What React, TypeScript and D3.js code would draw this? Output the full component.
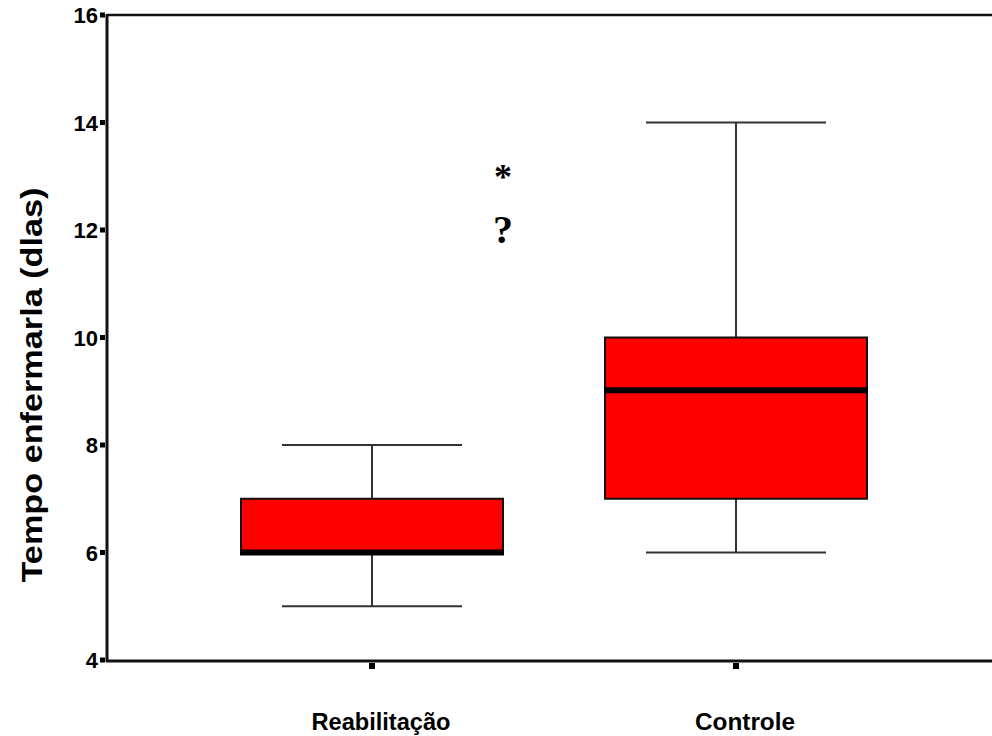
import React from "react";
import * as d3 from "d3";

const categories = ["Reabilitação", "Controle"];
const whiskerLow = [5, 6];
const q1 = [6, 7];
const median = [6, 9.02];
const q3 = [7, 10];
const whiskerHigh = [8, 14];
const outlierValues = [13, 12];
const outlierSymbols = ["*", "?"];
const outlierGroup = ["Reabilitação", "Reabilitação"];
const yTicks = [4, 6, 8, 10, 12, 14, 16];
const yTitle = "Tempo enfermarla (dlas)";

const W = 992;
const H = 736;
const axisX = 107;
const top = 15;
const bottom = 660;

export default function App() {
  const y = d3.scaleLinear().domain([4, 16]).range([bottom, top]);
  const x = d3.scalePoint<string>().domain(categories).range([372, 736]);
  const boxW = 262;
  const capW = 180;
  const sans = "'Liberation Sans', Arial, sans-serif";
  const serif = "'Liberation Serif', 'Times New Roman', serif";
  const labelLen: Record<string, number> = { "Reabilitação": 139, Controle: 100 };

  return (
    <svg
      width={W}
      height={H}
      style={{ position: "absolute", left: 0, top: 0, background: "#fff" }}
    >
      {/* frame lines */}
      <line x1={axisX} x2={W} y1={top} y2={top} stroke="#111" strokeWidth={2.5} />
      <line x1={axisX - 1} x2={W} y1={bottom + 1} y2={bottom + 1} stroke="#111" strokeWidth={3} />
      <line x1={axisX} x2={axisX} y1={top - 1} y2={bottom + 2} stroke="#111" strokeWidth={3} />

      {/* y ticks */}
      {yTicks.map((t) => (
        <g key={t}>
          <rect x={axisX - 7} y={y(t) - 2.5} width={5} height={5} fill="#000" />
          <text
            x={axisX - 9}
            y={y(t) + 8}
            textAnchor="end"
            fontFamily={sans}
            fontWeight="bold"
            fontSize={22}
            fill="#000"
          >
            {t}
          </text>
        </g>
      ))}

      {/* x ticks & labels */}
      {categories.map((c) => (
        <g key={c}>
          <rect x={(x(c) as number) - 3} y={bottom + 3} width={6} height={6} fill="#000" />
          <text
            x={(x(c) as number) + 9}
            y={730}
            textAnchor="middle"
            fontFamily={sans}
            fontWeight="bold"
            fontSize={24}
            textLength={labelLen[c]}
            lengthAdjust="spacingAndGlyphs"
            fill="#000"
          >
            {c}
          </text>
        </g>
      ))}

      {/* y title */}
      <text
        transform={`translate(42, 385) rotate(-90)`}
        textAnchor="middle"
        fontFamily={sans}
        fontWeight="bold"
        fontSize={30}
        textLength={395}
        lengthAdjust="spacingAndGlyphs"
        fill="#000"
      >
        {yTitle}
      </text>

      {/* boxes */}
      {categories.map((c, i) => {
        const cx = x(c) as number;
        return (
          <g key={c}>
            <line x1={cx} x2={cx} y1={y(whiskerHigh[i])} y2={y(q3[i])} stroke="#333" strokeWidth={2} />
            <line x1={cx} x2={cx} y1={y(q1[i])} y2={y(whiskerLow[i])} stroke="#333" strokeWidth={2} />
            <line x1={cx - capW / 2} x2={cx + capW / 2} y1={y(whiskerHigh[i])} y2={y(whiskerHigh[i])} stroke="#333" strokeWidth={2} />
            <line x1={cx - capW / 2} x2={cx + capW / 2} y1={y(whiskerLow[i])} y2={y(whiskerLow[i])} stroke="#333" strokeWidth={2} />
            <rect
              x={cx - boxW / 2}
              y={y(q3[i])}
              width={boxW}
              height={y(q1[i]) - y(q3[i])}
              fill="#ff0000"
              stroke="#111"
              strokeWidth={2}
            />
            <line
              x1={cx - boxW / 2 - 1}
              x2={cx + boxW / 2 + 1}
              y1={y(median[i])}
              y2={y(median[i])}
              stroke="#000"
              strokeWidth={6}
            />
          </g>
        );
      })}

      {/* outliers */}
      {outlierValues.map((v, i) => (
        <text
          key={i}
          x={(x(outlierGroup[i]) as number) + boxW / 2}
          y={y(v) + (outlierSymbols[i] === "*" ? 13 : 13)}
          textAnchor="middle"
          fontFamily={serif}
          fontWeight="bold"
          fontSize={outlierSymbols[i] === "*" ? 36 : 40}
          fill="#000"
        >
          {outlierSymbols[i]}
        </text>
      ))}
    </svg>
  );
}
